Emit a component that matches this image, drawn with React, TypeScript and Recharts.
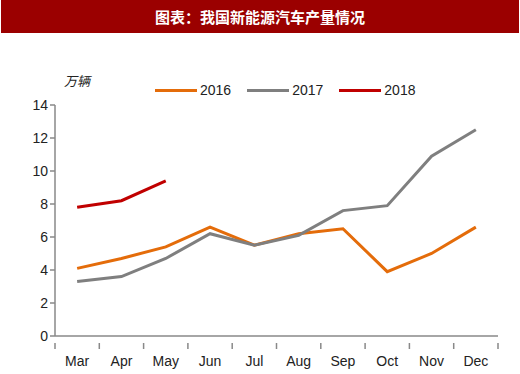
import { LineChart, XAxis, YAxis, Line } from "recharts";

const months = ["Mar", "Apr", "May", "Jun", "Jul", "Aug", "Sep", "Oct", "Nov", "Dec"];
const y2016 = [4.1, 4.7, 5.4, 6.6, 5.5, 6.2, 6.5, 3.9, 5.0, 6.6];
const y2017 = [3.3, 3.6, 4.7, 6.2, 5.5, 6.1, 7.6, 7.9, 10.9, 12.5];
const y2018 = [7.8, 8.2, 9.4];
const yTicks = [0, 2, 4, 6, 8, 10, 12, 14];

const series = [
	{ key: "y2016", label: "2016", color: "#E46C0A" },
	{ key: "y2017", label: "2017", color: "#7F7F7F" },
	{ key: "y2018", label: "2018", color: "#C00000" },
];

const data = months.map((m, i) => ({
	month: m,
	y2016: y2016[i],
	y2017: y2017[i],
	y2018: i < y2018.length ? y2018[i] : null,
}));

const FONT = "'Liberation Sans', Arial, sans-serif";
const AXIS = "#898989";
const BAND = 44.3;

function MonthTick(props: any) {
	const { x, y, payload, index } = props;
	const last = index === months.length - 1;
	return (
		<g>
			<line x1={x - BAND / 2} y1={y - 1} x2={x - BAND / 2} y2={y + 5} stroke={AXIS} strokeWidth={1.5} />
			{last && <line x1={x + BAND / 2} y1={y - 1} x2={x + BAND / 2} y2={y + 5} stroke={AXIS} strokeWidth={1.5} />}
			<text x={x} y={y + 22} textAnchor="middle" fontSize={14} fill="#222" fontFamily={FONT}>
				{payload.value}
			</text>
		</g>
	);
}

export default function App() {
	return (
		<div style={{ position: "absolute", left: 0, top: 0, width: 520, height: 374, background: "#fff" }}>
			<div
				style={{
					position: "absolute",
					left: 1,
					top: 0,
					width: 518,
					height: 33,
					background: "#9B0000",
					color: "#fff",
					fontFamily: "'Noto Sans CJK SC', sans-serif",
					fontWeight: "bold",
					fontSize: 15,
					lineHeight: "33px",
					textAlign: "center",
				}}
			>
				图表：我国新能源汽车产量情况
			</div>
			<div
				style={{
					position: "absolute",
					left: 64,
					top: 71,
					fontFamily: "'Noto Sans CJK SC', sans-serif",
					fontStyle: "italic",
					fontSize: 13,
					color: "#222",
				}}
			>
				万辆
			</div>
			<div
				style={{
					position: "absolute",
					left: 155,
					top: 82,
					display: "flex",
					fontFamily: FONT,
					fontSize: 14,
					color: "#222",
				}}
			>
				{series.map((s) => (
					<div key={s.key} style={{ display: "flex", alignItems: "center", marginRight: 16 }}>
						<div style={{ width: 42, height: 3, background: s.color, marginRight: 3 }} />
						<span>{s.label}</span>
					</div>
				))}
			</div>
			<div style={{ position: "absolute", left: 0, top: 0 }}>
				<LineChart width={520} height={374} data={data} margin={{ top: 105, right: 22, bottom: 0, left: 0 }}>
					<XAxis
						dataKey="month"
						height={38}
						padding={{ left: BAND / 2, right: BAND / 2 }}
						axisLine={{ stroke: AXIS, strokeWidth: 1.5 }}
						tickLine={false}
						tick={<MonthTick />}
						interval={0}
					/>
					<YAxis
						width={55}
						domain={[0, 14]}
						ticks={yTicks}
						axisLine={{ stroke: AXIS, strokeWidth: 1.5 }}
						tickLine={{ stroke: AXIS, strokeWidth: 1.5 }}
						tickSize={5}
						tick={{ fontSize: 14, fill: "#222", fontFamily: FONT }}
					/>
					{series.map((s) => (
						<Line
							key={s.key}
							type="linear"
							dataKey={s.key}
							name={s.label}
							stroke={s.color}
							strokeWidth={3}
							dot={false}
							activeDot={false}
							isAnimationActive={false}
						/>
					))}
				</LineChart>
			</div>
		</div>
	);
}
